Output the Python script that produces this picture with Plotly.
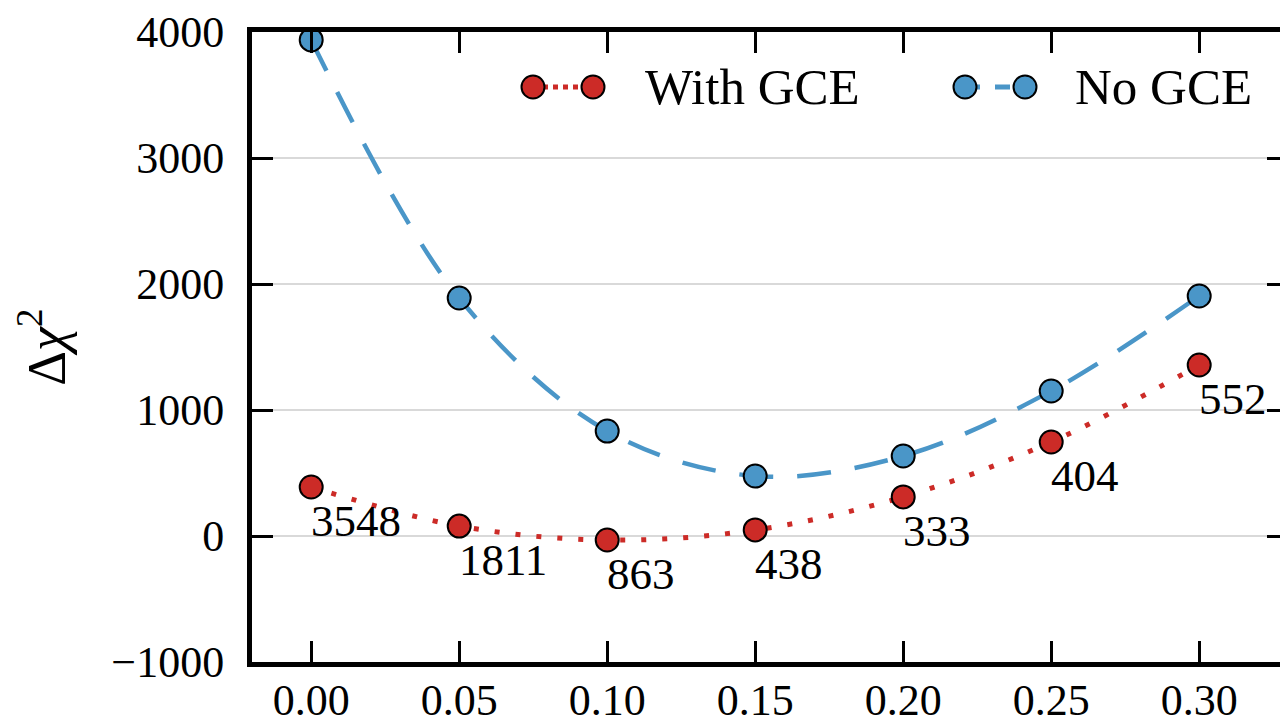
import plotly.graph_objects as go

# ---- data ----
x_vals = [0.00, 0.05, 0.10, 0.15, 0.20, 0.25, 0.30]
with_gce = [389, 79, -32, 48, 310, 746, 1357]
no_gce = [3937, 1889, 833, 476, 635, 1151, 1905]
point_labels = ["3548", "1811", "863", "438", "333", "404", "552"]
x_ticks = [0.00, 0.05, 0.10, 0.15, 0.20, 0.25, 0.30]
x_tick_text = ["0.00", "0.05", "0.10", "0.15", "0.20", "0.25", "0.30"]
y_ticks = [-1000, 0, 1000, 2000, 3000, 4000]
series_names = ["With GCE", "No GCE"]

RED = "#cc2b27"
BLUE = "#4a96c8"
FONT = "'Liberation Serif', 'Times New Roman', 'DejaVu Serif', serif"

# the page body adds an 8px offset, so the figure is drawn 8px smaller
OFF = 8
W, H = 1280, 716
L, R, T, B = 244, 0, 24, 62
PW, PH = W - L - R, H - T - B


def px(x):
    return (x - OFF - L) / PW


def py(y):
    return (H - B - (y - OFF)) / PH


fig = go.Figure()

fig.add_trace(go.Scatter(
    x=x_vals, y=no_gce, mode="lines+markers", name=series_names[1],
    line=dict(color=BLUE, width=4.5, dash="34px,24px", shape="spline"),
    marker=dict(size=23, color=BLUE, line=dict(color="black", width=2)),
    showlegend=False, cliponaxis=False,
))
fig.add_trace(go.Scatter(
    x=x_vals, y=with_gce, mode="lines+markers", name=series_names[0],
    line=dict(color=RED, width=5, dash="5px,16px", shape="spline"),
    marker=dict(size=23, color=RED, line=dict(color="black", width=2)),
    showlegend=False, cliponaxis=False,
))

annotations = []
for xv, yv, lab in zip(x_vals, with_gce, point_labels):
    annotations.append(dict(
        x=xv, y=yv, xref="x", yref="y", text=lab, showarrow=False,
        xanchor="left", yanchor="middle", xshift=-2, yshift=-34,
        font=dict(family=FONT, size=45, color="black"),
    ))

# custom legend (two markers joined by the line style, like the original)
shapes = []
legend_items = [
    (series_names[0], RED, "dot", 533, 593, 643),
    (series_names[1], BLUE, "dash", 965, 1025, 1073),
]
ly = 87
for name, col, dash, m1, m2, tx in legend_items:
    shapes.append(dict(type="line", xref="paper", yref="paper",
                       x0=px(m1), x1=px(m2), y0=py(ly), y1=py(ly),
                       line=dict(color=col, width=5, dash=dash)))
    for m in (m1, m2):
        shapes.append(dict(type="circle", xref="paper", yref="paper",
                           xsizemode="pixel", ysizemode="pixel",
                           xanchor=px(m), yanchor=py(ly),
                           x0=-11.5, x1=11.5, y0=-11.5, y1=11.5,
                           fillcolor=col, line=dict(color="black", width=2)))
    annotations.append(dict(x=px(tx), y=py(ly), xref="paper", yref="paper",
                            text=name, showarrow=False, xanchor="left",
                            yanchor="middle",
                            font=dict(family=FONT, size=51, color="black")))

fig.update_layout(
    width=W, height=H,
    margin=dict(l=L, r=R, t=T, b=B, pad=0, autoexpand=False),
    paper_bgcolor="white", plot_bgcolor="white",
    font=dict(family=FONT, size=44, color="black"),
    shapes=shapes, annotations=annotations,
    showlegend=False,
)

fig.update_xaxes(
    range=[-0.02, 0.33], tickvals=x_ticks, ticktext=x_tick_text,
    ticks="inside", ticklen=21, tickwidth=2.5, tickcolor="black",
    showline=True, linecolor="black", linewidth=5, mirror="ticks",
    showgrid=False, zeroline=False, automargin=False,
    tickfont=dict(family=FONT, size=44, color="black"),
    ticklabelstandoff=-5,
)
fig.update_yaxes(
    range=[-1000, 4000], tickvals=y_ticks,
    ticks="inside", ticklen=21, tickwidth=2.5, tickcolor="black",
    showline=True, linecolor="black", linewidth=5, mirror="ticks",
    showgrid=True, gridcolor="#d9d9d9", gridwidth=2, zeroline=False,
    automargin=False,
    tickfont=dict(family=FONT, size=44, color="black"),
    ticklabelstandoff=14,
    title=dict(text="Δ<i>χ</i><sup>2</sup>", standoff=150,
               font=dict(family=FONT, size=54, color="black")),
)

fig.write_html("out.html")
